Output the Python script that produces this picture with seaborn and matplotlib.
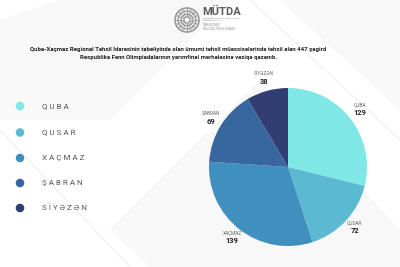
import numpy as np
import matplotlib
matplotlib.use("Agg")
import matplotlib.pyplot as plt
import seaborn as sns
import pandas as pd
from matplotlib.patches import Polygon, Circle

categories = ["QUBA", "QUSAR", "XAÇMAZ", "ŞABRAN", "SİYƏZƏN"]
values = [129, 72, 139, 69, 38]
colors = ["#7fe8e6", "#5bbad2", "#3f8fbf", "#38679f", "#323d72"]
title_lines = ["Quba-Xaçmaz Regional Təhsil İdarəsinin tabeliyində olan ümumi təhsil müəssisələrində təhsil alan 447 şagird",
               "Respublika Fənn Olimpiadalarının yarımfinal mərhələsinə vəsiqə qazanıb."]

sns.set_theme(style="white")
plt.rcParams['font.family'] = ['Roboto', 'DejaVu Sans']

fig = plt.figure(figsize=(4.0, 2.67), dpi=100)
fig.patch.set_facecolor("#ffffff")

# faint background shapes
bg = fig.add_axes([0, 0, 1, 1])
bg.set_xlim(0, 400); bg.set_ylim(267, 0); bg.axis("off")
shapes = [
    [(0, 20), (60, 0), (230, 0), (110, 120), (0, 120)],
    [(110, 230), (260, 80), (400, 230), (400, 267), (150, 267)],
    [(280, 0), (400, 0), (400, 110)],
]
for s in shapes:
    bg.add_patch(Polygon(s, closed=True, facecolor="#f8f8f8", edgecolor="none"))
bg.plot([0, 130], [130, 267], color="#efefef", lw=0.8)
bg.plot([250, 400], [0, 140], color="#efefef", lw=0.8)

# logo
cx, cy = 187, 20
for rr, lw in [(12, 1.2), (9, 1.0), (6, 0.9), (3, 0.8)]:
    bg.add_patch(Circle((cx, cy), rr, facecolor="none", edgecolor="#9a9a9a", lw=lw))
for a in np.linspace(0, 2 * np.pi, 16, endpoint=False):
    bg.plot([cx + 3 * np.cos(a), cx + 12 * np.cos(a)], [cy + 3 * np.sin(a), cy + 12 * np.sin(a)],
            color="#9a9a9a", lw=0.6)
bg.text(202, 12, "MÜTDA", fontsize=8, fontweight="bold", color="#5a5a5a", va="center", ha="left")
bg.text(203, 19, "MƏKTƏBƏQƏDƏR VƏ ÜMUMİ TƏHSİL\nDÖVLƏT AGENTLİYİ", fontsize=1.6, color="#888888",
        va="center", ha="left", linespacing=1.2)
bg.text(203, 27, "QUBA-XAÇMAZ\nREGİONAL TƏHSİL İDARƏSİ", fontsize=1.9, color="#888888",
        va="center", ha="left", linespacing=1.2)

# title
bg.text(178, 49, title_lines[0], fontsize=4.3, color="#222222", ha="center", va="center", fontweight="bold")
bg.text(178, 57.5, title_lines[1], fontsize=4.3, color="#222222", ha="center", va="center", fontweight="bold")

# legend via seaborn scatter
lax = fig.add_axes([0, 0, 1, 1])
lax.set_xlim(0, 400); lax.set_ylim(267, 0); lax.axis("off")
leg_df = pd.DataFrame({"cat": categories, "x": [20] * 5, "y": [106, 132.5, 158, 183, 208]})
sns.scatterplot(data=leg_df, x="x", y="y", hue="cat", palette=colors, s=38, edgecolor="none",
                legend=False, ax=lax)
for _, row in leg_df.iterrows():
    lax.text(42, row["y"], " ".join(row["cat"]), fontsize=5.8, color="#555555",
             va="center", ha="left")

# pie
r = 79
ccx, ccy = 288, 167
pax = fig.add_axes([(ccx - r) / 400, (267 - ccy - r) / 267, 2 * r / 400, 2 * r / 267])
wedges, _ = pax.pie(values, colors=colors, startangle=90, counterclock=False, radius=1,
                    wedgeprops=dict(linewidth=0))
pax.set_xlim(-1, 1); pax.set_ylim(-1, 1); pax.set_aspect("auto")
for w, cat, v in zip(wedges, categories, values):
    ang = np.deg2rad((w.theta1 + w.theta2) / 2)
    d = 1.15
    x, y = d * np.cos(ang), d * np.sin(ang)
    pax.text(x, y + 0.04, cat, fontsize=3.4, color="#666666", ha="center", va="bottom", clip_on=False)
    pax.text(x, y + 0.02, str(v), fontsize=5.4, color="#222222", fontweight="bold", ha="center",
             va="top", clip_on=False)

fig.savefig("out.png", dpi=100)
